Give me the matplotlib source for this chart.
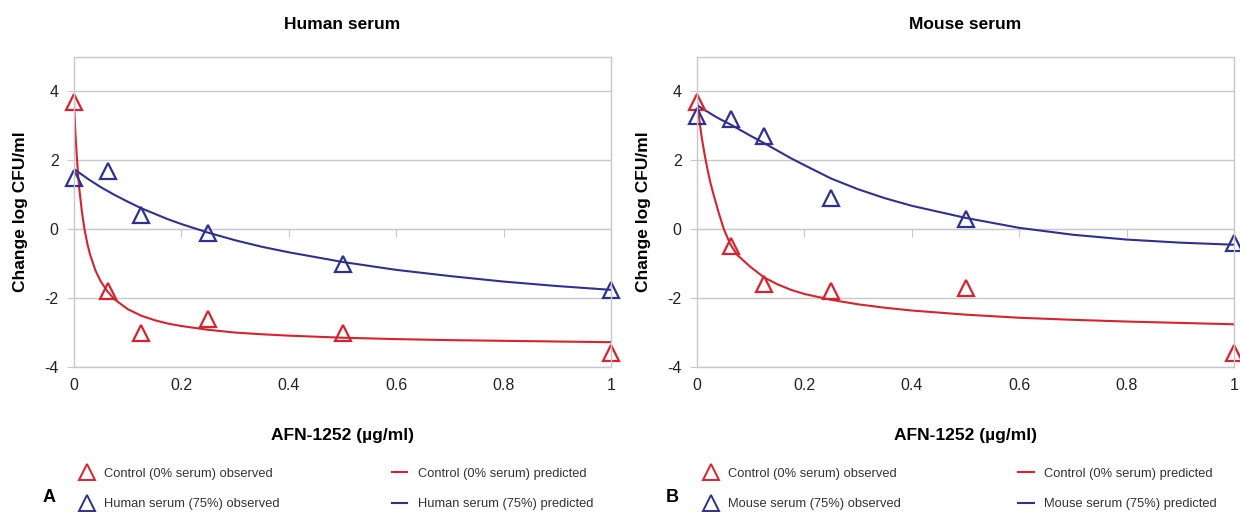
import matplotlib
matplotlib.use("Agg")
import matplotlib.pyplot as plt
from matplotlib.lines import Line2D

plt.rcParams["font.family"] = ["Liberation Sans", "DejaVu Sans"]
plt.rcParams["axes.unicode_minus"] = False

RED = "#d7232e"
BLUE = "#2e3192"
GRID = "#c8c8c8"

# ── Observed data ───────────────────────────────────────────────────
conc = [0, 0.0625, 0.125, 0.25, 0.5, 1.0]

human_ctrl_obs = [3.7, -1.8, -3.0, -2.6, -3.0, -3.6]
human_serum_obs = [1.5, 1.7, 0.4, -0.1, -1.0, -1.75]

mouse_ctrl_obs = [3.7, -0.5, -1.6, -1.8, -1.7, -3.6]
mouse_serum_obs = [3.3, 3.2, 2.7, 0.9, 0.3, -0.4]

# ── Predicted curves ────────────────────────────────────────────────
curve_x = [0, 0.0025, 0.005, 0.0075, 0.01, 0.015, 0.02, 0.025, 0.03, 0.04,
           0.05, 0.0625, 0.075, 0.1, 0.125, 0.15, 0.175, 0.2, 0.25, 0.3,
           0.35, 0.4, 0.5, 0.6, 0.7, 0.8, 0.9, 1.0]

human_ctrl_pred = [3.7, 2.83, 2.16, 1.61, 1.16, 0.47, -0.04, -0.43, -0.74,
                   -1.20, -1.52, -1.81, -2.03, -2.32, -2.51, -2.64, -2.74,
                   -2.81, -2.92, -3.00, -3.05, -3.09, -3.15, -3.19, -3.22,
                   -3.24, -3.26, -3.28]
human_serum_pred = [1.75, 1.72, 1.69, 1.66, 1.64, 1.58, 1.53, 1.47, 1.42,
                    1.32, 1.22, 1.11, 1.0, 0.80, 0.61, 0.45, 0.29, 0.15,
                    -0.10, -0.32, -0.51, -0.67, -0.95, -1.18, -1.36, -1.52,
                    -1.65, -1.76]
mouse_ctrl_pred = [3.75, 3.4, 3.1, 2.8, 2.55, 2.1, 1.7, 1.35, 1.05, 0.5, 0.0,
                   -0.45, -0.75, -1.1, -1.4, -1.6, -1.76, -1.88, -2.05,
                   -2.18, -2.28, -2.36, -2.48, -2.57, -2.63, -2.68, -2.72,
                   -2.76]
mouse_serum_pred = [3.6, 3.58, 3.55, 3.53, 3.5, 3.45, 3.41, 3.36, 3.31, 3.22,
                    3.14, 3.04, 2.93, 2.71, 2.5, 2.28, 2.06, 1.86, 1.47, 1.16,
                    0.9, 0.68, 0.33, 0.04, -0.16, -0.3, -0.39, -0.45]

panels = [
    ("Human serum", "A", human_ctrl_obs, human_serum_obs, human_ctrl_pred,
     human_serum_pred, "Human serum (75%)"),
    ("Mouse serum", "B", mouse_ctrl_obs, mouse_serum_obs, mouse_ctrl_pred,
     mouse_serum_pred, "Mouse serum (75%)"),
]

fig = plt.figure(figsize=(12.4, 5.13), dpi=100)
W, H = 1240, 513
ax_boxes = [(74, 611), (697, 1234)]
top, bottom = 57, 367

leg_x = [(81, 392, 43), (705, 1018, 666)]

for (title, tag, c_obs, s_obs, c_pred, s_pred, serum_lbl), (x0, x1), (lx1, lx2, tx) in zip(
        panels, ax_boxes, leg_x):
    ax = fig.add_axes([x0 / W, (H - bottom) / H, (x1 - x0) / W, (bottom - top) / H])
    ax.set_xlim(0, 1)
    ax.set_ylim(-4, 5)
    ax.set_yticks([-4, -2, 0, 2, 4])
    ax.set_xticks([0, 0.2, 0.4, 0.6, 0.8, 1])
    ax.set_xticklabels(["0", "0.2", "0.4", "0.6", "0.8", "1"])
    ax.grid(axis="y", color=GRID, linewidth=1)
    ax.set_axisbelow(True)
    for s in ax.spines.values():
        s.set_color(GRID)
        s.set_linewidth(1)
    ax.tick_params(axis="x", length=0, labelsize=11.5, pad=8, colors="#222222")
    ax.tick_params(axis="y", length=5, color=GRID, labelsize=11.5, pad=6,
                   labelcolor="#222222")

    # Excel-style axis line at y = 0 with small tick marks
    sec = ax.secondary_xaxis(4 / 9)
    sec.set_xticks([0, 0.2, 0.4, 0.6, 0.8, 1])
    sec.tick_params(length=6, color=GRID, labelbottom=False, labeltop=False)
    sec.spines["bottom"].set_color(GRID)
    sec.spines["top"].set_visible(False)

    ax.plot(curve_x, c_pred, color=RED, linewidth=1.5)
    ax.plot(curve_x, s_pred, color=BLUE, linewidth=1.5)
    ax.plot(conc, c_obs, linestyle="none", marker="^", markersize=11,
            markerfacecolor="none", markeredgecolor=RED, markeredgewidth=1.6,
            clip_on=False)
    ax.plot(conc, s_obs, linestyle="none", marker="^", markersize=11,
            markerfacecolor="none", markeredgecolor=BLUE, markeredgewidth=1.6,
            clip_on=False)

    ax.set_title(title, fontsize=12.5, fontweight="bold", pad=20)
    ax.set_xlabel("AFN-1252 (µg/ml)", fontsize=12.5, fontweight="bold",
                  labelpad=25)
    ax.set_ylabel("Change log CFU/ml", fontsize=12.5, fontweight="bold",
                  labelpad=12)

    obs_handles = [
        Line2D([], [], linestyle="none", marker="^", markersize=11,
               markerfacecolor="none", markeredgecolor=RED, markeredgewidth=1.4),
        Line2D([], [], linestyle="none", marker="^", markersize=11,
               markerfacecolor="none", markeredgecolor=BLUE, markeredgewidth=1.4),
    ]
    pred_handles = [
        Line2D([], [], color=RED, linewidth=1.5),
        Line2D([], [], color=BLUE, linewidth=1.5),
    ]
    fig.legend(obs_handles,
               ["Control (0% serum) observed", f"{serum_lbl} observed"],
               loc="center left", bbox_to_anchor=(lx1 / W, 24 / H),
               frameon=False, fontsize=9.3, labelspacing=1.45, borderpad=0,
               borderaxespad=0, handlelength=1.0, handletextpad=0.75,
               labelcolor="#333333")
    fig.legend(pred_handles,
               ["Control (0% serum) predicted", f"{serum_lbl} predicted"],
               loc="center left", bbox_to_anchor=(lx2 / W, 24 / H),
               frameon=False, fontsize=9.3, labelspacing=1.45, borderpad=0,
               borderaxespad=0, handlelength=1.2, handletextpad=0.8,
               labelcolor="#333333")
    fig.text(tx / W, (H - 498) / H, tag, fontsize=13, fontweight="bold",
             va="center", ha="left")

plt.savefig("out.png", dpi=100)
